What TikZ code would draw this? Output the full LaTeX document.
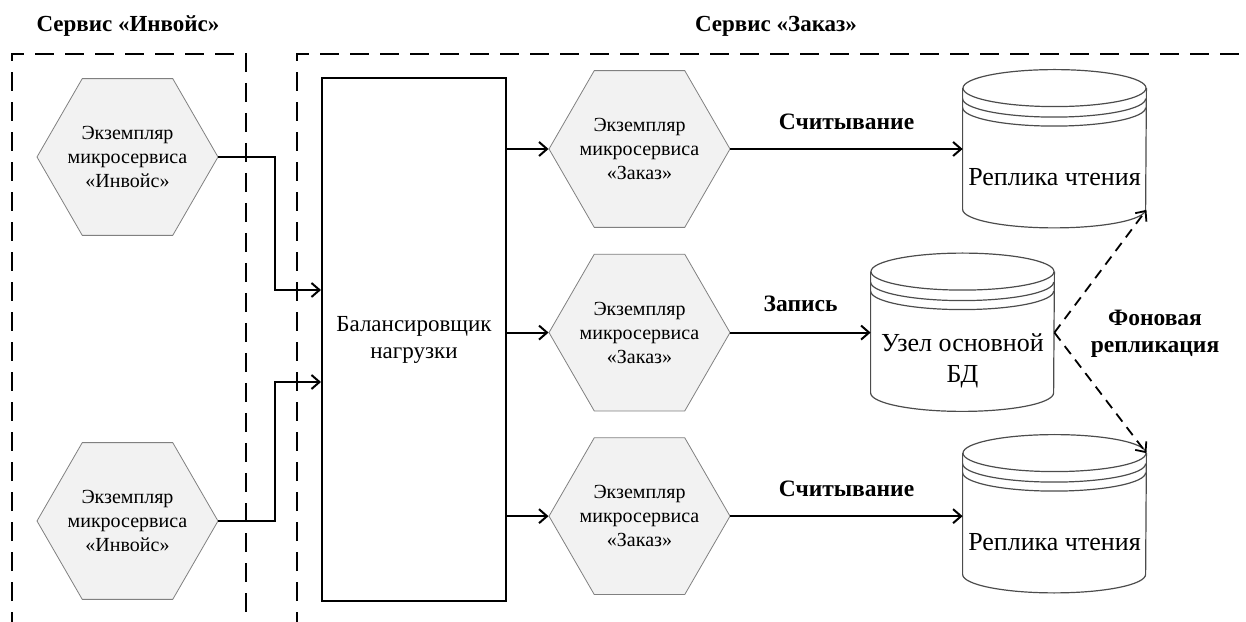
\documentclass[tikz,border=0pt]{standalone}
\usepackage{fontspec}
\setmainfont{Liberation Serif}
\usetikzlibrary{arrows.meta,positioning,calc,shapes.geometric}
\tikzset{
  >={Straight Barb[length=4pt,width=7pt]},
  hexa/.style={regular polygon,regular polygon sides=6,minimum size=90.5pt,inner sep=-6pt,
    draw=black!50,fill=black!5,align=center,font=\fontsize{10}{12}\selectfont},
  lbbox/.style={draw,line width=1pt,minimum width=92pt,minimum height=261.5pt,inner sep=0pt,
    align=center,font=\fontsize{11.5}{13.5}\selectfont},
  dbtext/.style={minimum width=91.5pt,minimum height=50.5pt,inner sep=0pt,align=center,
    font=\fontsize{13}{15.5}\selectfont},
  dbline/.style={draw=black!70,line width=0.6pt},
  frame/.style={line width=1.4pt,dash pattern=on 9.5pt off 5.5pt},
  arrow/.style={->,line width=1pt},
  reparrow/.style={->,line width=0.9pt,dash pattern=on 5pt off 3.5pt},
  title/.style={font=\fontsize{11.5}{13.5}\selectfont\bfseries},
  lbl/.style={font=\fontsize{11.75}{13.5}\selectfont\bfseries,inner sep=0pt,align=center},
}
% cylinder outline round a text node
\newcommand{\dbcyl}[1]{%
  \draw[dbline] ($(#1.north)+(0,19pt)$) ellipse (45.75pt and 9.25pt);
  \draw[dbline] ($(#1.north west)+(0,19pt)$) -- ($(#1.south west)+(0,9.25pt)$)
    arc (180:360:45.75pt and 9.25pt) -- ($(#1.north east)+(0,19pt)$);
  \draw[dbline] ($(#1.north west)+(0,13.75pt)$) arc (180:360:45.75pt and 9.25pt);
  \draw[dbline] ($(#1.north west)+(0,9.25pt)$) arc (180:360:45.75pt and 9.25pt);
}
\begin{document}
\begin{tikzpicture}[x=0.5pt,y=0.5pt]
\useasboundingbox (0,0) rectangle (1246,621);
% service frames
\draw[frame] (12,-10) -- (12,567) -- (246,567) -- (246,-10);
\draw[frame] (297,-10) -- (297,567) -- (1260,567);
\node[title,anchor=base] (tinv) at (128,589) {Сервис «Инвойс»};
\node[title,anchor=base] (tord) at (776,589) {Сервис «Заказ»};

\node[hexa] (inv1) at (127.5,464) {Экземпляр\\микросервиса\\«Инвойс»};
\node[hexa] (inv2) at (127.5,100) {Экземпляр\\микросервиса\\«Инвойс»};
\node[lbbox] (lb) at (414,281.5) {Балансировщик\\нагрузки};
\node[hexa] (ord1) at (639.5,472) {Экземпляр\\микросервиса\\«Заказ»};
\node[hexa,below=13pt of ord1] (ord2) {Экземпляр\\микросервиса\\«Заказ»};
\node[hexa,below=13pt of ord2] (ord3) {Экземпляр\\микросервиса\\«Заказ»};

\node[dbtext] (rep1) at (1054.5,444) {Реплика чтения};
\node[dbtext] (master) at (962.5,260.5) {Узел основной\\БД};
\node[dbtext] (rep2) at (1054.5,79) {Реплика чтения};
\dbcyl{rep1}
\dbcyl{master}
\dbcyl{rep2}
\node[lbl] (bgrep) at (1155,287) {Фоновая\\репликация};

\draw[arrow] (inv1.east) -- ++(57,0) |- ([yshift=24.75pt]lb.west);
\draw[arrow] (inv2.east) -- ++(57,0) |- ([yshift=-21.25pt]lb.west);
\draw[arrow] (lb.east |- ord1.west) -- (ord1.west);
\draw[arrow] (lb.east |- ord2.west) -- (ord2.west);
\draw[arrow] (lb.east |- ord3.west) -- (ord3.west);
\draw[arrow] (ord1.east) -- (ord1.east -| rep1.west) node[lbl,midway,above=9pt] (rd1) {Считывание};
\draw[arrow] (ord2.east) -- (ord2.east -| master.west) node[lbl,midway,above=10pt] (wr) {Запись};
\draw[arrow] (ord3.east) -- (ord3.east -| rep2.west) node[lbl,midway,above=9pt] (rd2) {Считывание};
\draw[reparrow] (master.east |- ord2.east) -- ($(rep1.south east)+(0,9pt)$);
\draw[reparrow] (master.east |- ord2.east) -- ($(rep2.north east)+(0,19pt)$);
\end{tikzpicture}
\end{document}
